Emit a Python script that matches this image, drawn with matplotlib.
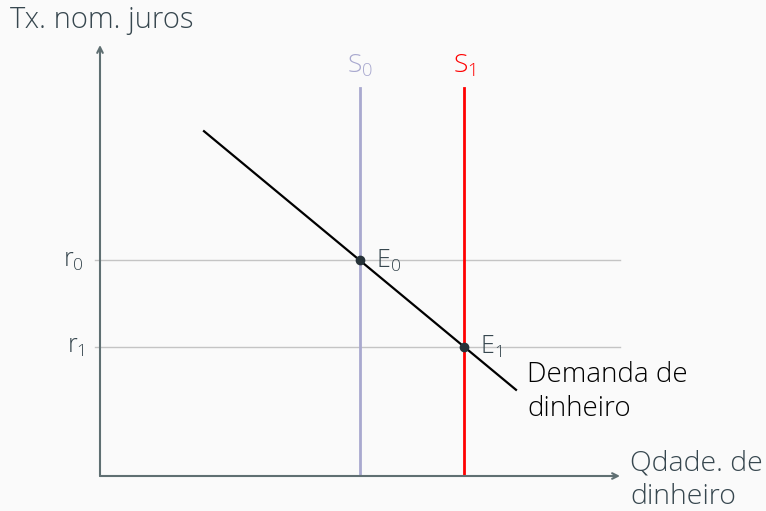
import matplotlib
matplotlib.use("Agg")
import matplotlib.pyplot as plt

plt.rcParams['font.family'] = ['Open Sans', 'Lato', 'DejaVu Sans']
plt.rcParams['font.weight'] = 'light'
plt.rcParams['mathtext.default'] = 'regular'

# data (axes run 0..10 in both directions)
supply_x = [5, 7]            # S0, S1
supply_top = 9
supply_labels = ["S$_0$", "S$_1$"]
supply_colors = ["#a9a9cf", "#ff0000"]
rates = [5, 3]               # r0, r1
rate_labels = ["r$_0$", "r$_1$"]
demand_x = [2, 8]
demand_y = [8, 2]
eq_x = [5, 7]
eq_y = [5, 3]
eq_labels = ["E$_0$", "E$_1$"]

txt = "#37474f"
axc = "#5f6f72"

fig = plt.figure(figsize=(7.66, 5.11), dpi=100)
fig.patch.set_facecolor("#fafafa")
ax = fig.add_axes([100 / 766, 35 / 511, 520 / 766, 431 / 511])
ax.set_facecolor("#fafafa")
ax.set_xlim(0, 10)
ax.set_ylim(0, 10)
ax.axis("off")

# axes with arrows
ax.annotate("", xy=(0, 1), xytext=(0, 0), xycoords="axes fraction",
            arrowprops=dict(arrowstyle="->", color=axc, lw=1.5, mutation_scale=10,
                            shrinkA=0, shrinkB=0))
ax.annotate("", xy=(1, 0), xytext=(0, 0), xycoords="axes fraction",
            arrowprops=dict(arrowstyle="->", color=axc, lw=1.5, mutation_scale=10,
                            shrinkA=0, shrinkB=0))

# interest rate guide lines
for r, lab in zip(rates, rate_labels):
    ax.plot([-0.1, 10], [r, r], color="#c4c4c4", lw=1, clip_on=False, zorder=1)
    ax.text(-0.3, r, lab, ha="right", va="center", fontsize=18, color=txt)

# supply lines
for x, lab, c in zip(supply_x, supply_labels, supply_colors):
    ax.plot([x, x], [0, supply_top], color=c, lw=2, zorder=2)
    ax.text(x, supply_top + 0.2, lab, ha="center", va="bottom", fontsize=19, color=c)

# demand
ax.plot(demand_x, demand_y, color="black", lw=1.6, zorder=3)
ax.text(demand_x[1] + 0.22, demand_y[1] - 0.05, "Demanda de\ndinheiro",
        ha="left", va="center", fontsize=20, color="black", linespacing=1.3)

# equilibria
ax.plot(eq_x, eq_y, "o", color="#263238", ms=6, zorder=4)
for x, y, lab in zip(eq_x, eq_y, eq_labels):
    ax.text(x + 0.3, y, lab, ha="left", va="center", fontsize=18, color=txt)

# axis titles
fig.text(10 / 766, 1 - 20 / 511, "Tx. nom. juros", ha="left", va="center",
         fontsize=21, color=txt)
ax.text(10.2, -0.1, "Qdade. de\ndinheiro", ha="left", va="center",
        fontsize=20.5, color=txt, linespacing=1.25)

fig.savefig("out.png", dpi=100, facecolor=fig.get_facecolor())
